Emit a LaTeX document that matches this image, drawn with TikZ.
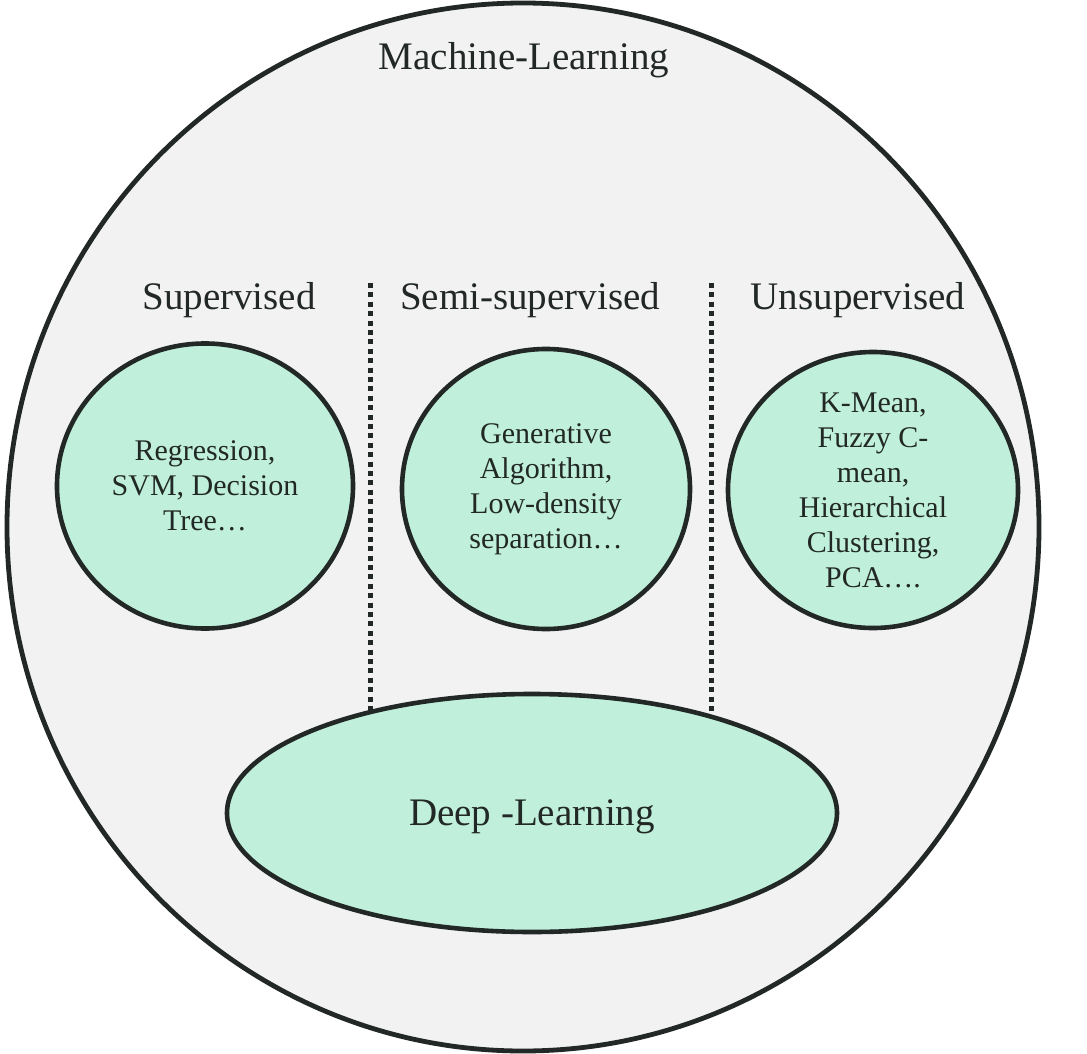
\documentclass[tikz,border=0pt]{standalone}
\usepackage{fontspec}
\setmainfont{Liberation Serif}
\usepackage{tikz}
\usetikzlibrary{shapes.geometric, positioning}
\definecolor{mintcolor}{RGB}{192,240,220}
\definecolor{bgcolor}{RGB}{242,242,242}
\definecolor{inkcolor}{RGB}{34,40,37}

\begin{document}
\begin{tikzpicture}[
    x=0.5pt, y=-0.5pt,
    every node/.style={text=inkcolor},
    outer/.style={ellipse, draw=inkcolor, line width=2.4pt, fill=bgcolor, inner sep=0pt},
    algo/.style={ellipse, draw=inkcolor, line width=2.3pt, fill=mintcolor, inner sep=0pt, align=center, font=\fontsize{15}{17.5}\selectfont},
    heading/.style={anchor=base, font=\fontsize{19.5}{23}\selectfont},
    divider/.style={draw=inkcolor, line width=2.5pt, dash pattern=on 2.5pt off 2.2pt}
]
    \useasboundingbox (0,0) rectangle (1087,1054);
    \node[outer, minimum width=516pt, minimum height=524pt] (ml) at (523,527) {};
    \node[heading] (mlhead) at (524,70) {Machine-Learning};

    \node[heading] (suphead) at (229,309) {Supervised};
    \node[heading] (semihead) at (530,309) {Semi-supervised};
    \node[heading] (unsuphead) at (858,309) {Unsupervised};

    \coordinate (div1top) at (370,283);
    \coordinate (div1bot) at (370,720);
    \coordinate (div2top) at (711,283);
    \coordinate (div2bot) at (711,725);
    \draw[divider] (div1top) -- (div1bot);
    \draw[divider] (div2top) -- (div2bot);

    \node[algo, minimum width=148pt, minimum height=142.5pt] (supalgo) at (205,486) {Regression,\\SVM, Decision\\Tree…};
    \node[algo, minimum width=144pt, minimum height=140pt] (semialgo) at (546,489) {Generative\\Algorithm,\\Low-density\\separation…};
    \node[algo, minimum width=145pt, minimum height=138pt] (unsupalgo) at (873,490) {K-Mean,\\Fuzzy C-\\mean,\\Hierarchical\\Clustering,\\PCA….};

    \node[algo, minimum width=305pt, minimum height=119pt, text depth=0pt, font=\fontsize{19.5}{23}\selectfont] (deep) at (532,813) {Deep -Learning};
\end{tikzpicture}
\end{document}
